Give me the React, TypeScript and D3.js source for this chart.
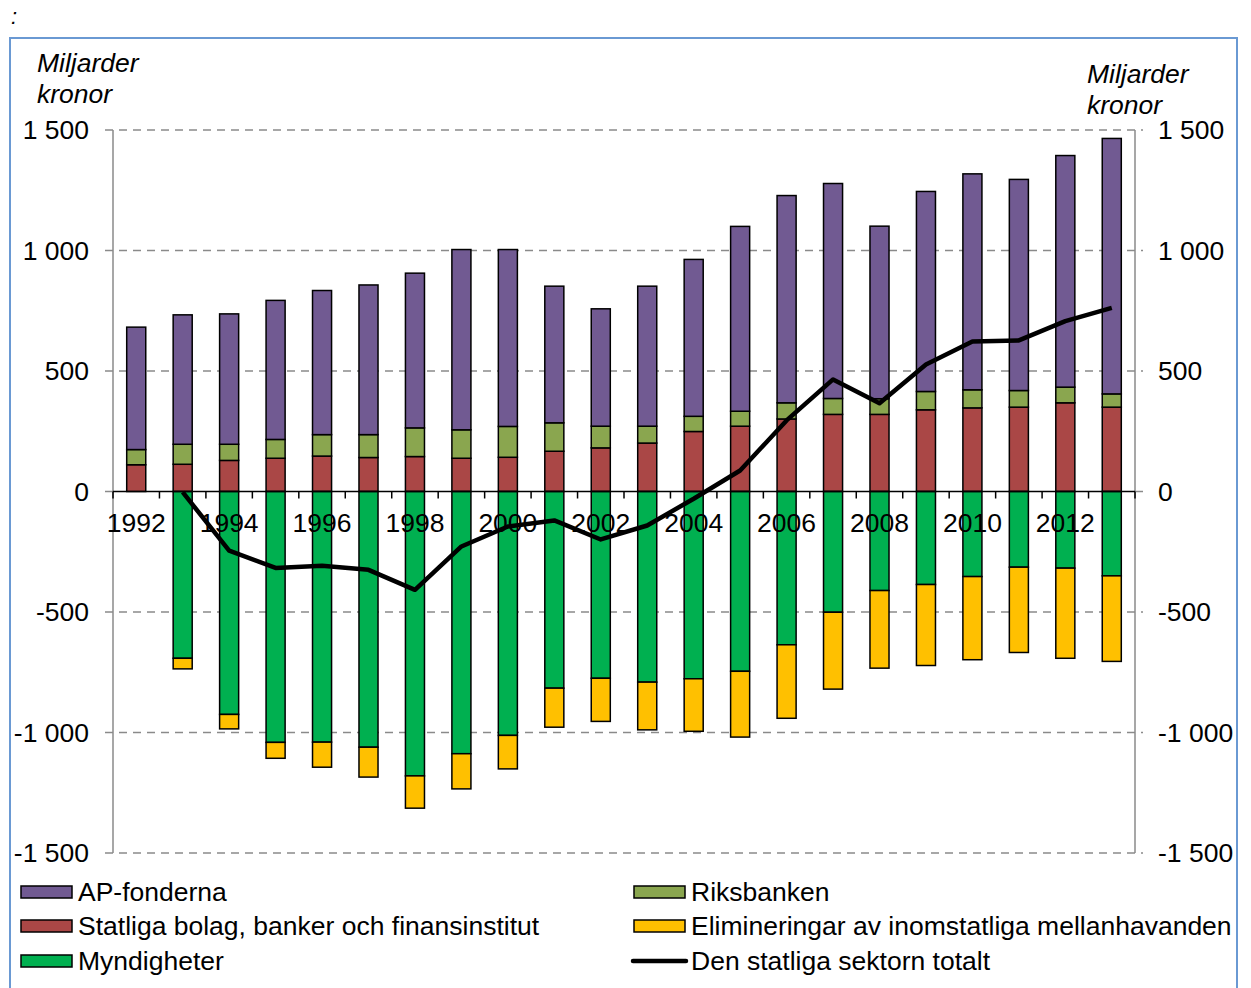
import React from "react";
import * as d3 from "d3";

const years = [1992,1993,1994,1995,1996,1997,1998,1999,2000,2001,2002,2003,2004,2005,2006,2007,2008,2009,2010,2011,2012,2013];
const statliga = [111,113,129,138,147,141,145,138,142,167,181,201,249,271,301,320,320,339,347,350,368,350];
const riksbanken = [63,83,67,78,89,95,119,118,128,118,90,70,63,62,67,66,65,76,75,69,65,55];
const apFonderna = [508,537,541,577,598,621,642,748,734,567,487,581,651,767,860,892,716,830,896,876,961,1060];
const myndigheter = [0,-692,-925,-1041,-1040,-1061,-1180,-1088,-1012,-816,-775,-791,-777,-746,-636,-501,-411,-386,-353,-314,-318,-350];
const elimineringar = [0,-44,-60,-66,-104,-124,-134,-146,-139,-162,-179,-198,-218,-273,-305,-319,-322,-336,-345,-354,-374,-355];
const totalt: (number | null)[] = [null,-3,-245,-317,-308,-325,-408,-228,-145,-120,-199,-141,-30,87,295,465,366,527,622,627,707,762];
const yTicks = [1500,1000,500,0,-500,-1000,-1500];

const C = {
  ap: "#715a92",
  stat: "#aa4746",
  riks: "#8aa64f",
  mynd: "#00b050",
  elim: "#ffc000",
};

const FONT = "Arial, 'Liberation Sans', sans-serif";
const FS = 26.5;

function fmt(v: number) {
  const s = Math.abs(v).toString();
  const withSpace = s.length > 3 ? s.slice(0, s.length - 3) + " " + s.slice(s.length - 3) : s;
  return (v < 0 ? "-" : "") + withSpace;
}

export default function App() {
  const W = 1251, H = 988;
  const left = 113, right = 1135, top = 130, bottom = 853;
  const y = d3.scaleLinear().domain([-1500, 1500]).range([bottom, top]);
  const p = 0.59;
  const x = d3.scaleBand<number>().domain(years).range([left, right]).paddingInner(p).paddingOuter(p / 2);
  const bw = x.bandwidth();
  const step = x.step();
  const cx = (yr: number) => (x(yr) as number) + bw / 2;

  const rows = years.map((yr, i) => {
    const s1 = statliga[i];
    const r1 = s1 + riksbanken[i];
    const a1 = r1 + apFonderna[i];
    const m1 = myndigheter[i];
    const e1 = m1 + elimineringar[i];
    return { yr, segs: [
      { a: 0, b: s1, c: C.stat },
      { a: s1, b: r1, c: C.riks },
      { a: r1, b: a1, c: C.ap },
      { a: 0, b: m1, c: C.mynd },
      { a: m1, b: e1, c: C.elim },
    ] };
  });

  const lineData = years.map((yr, i) => ({ yr, v: totalt[i] })).filter(d => d.v !== null) as { yr: number; v: number }[];
  const line = d3.line<{ yr: number; v: number }>().x(d => cx(d.yr)).y(d => y(d.v));

  const boundaries = d3.range(years.length + 1).map(i => left + i * step);

  const legendLeft = [
    { label: "AP-fonderna", c: C.ap },
    { label: "Statliga bolag, banker och finansinstitut", c: C.stat },
    { label: "Myndigheter", c: C.mynd },
  ];
  const legendRight = [
    { label: "Riksbanken", c: C.riks, line: false },
    { label: "Elimineringar av inomstatliga mellanhavanden", c: C.elim, line: false },
    { label: "Den statliga sektorn totalt", c: "#000", line: true },
  ];
  const legY = [892, 926, 961];

  return (
    <svg width={W} height={H} style={{ position: "absolute", left: 0, top: 0, background: "#fff" }} fontFamily={FONT}>
      <text x={11} y={24} fontSize={22} fontStyle="italic">:</text>
      <rect x={10} y={38} width={1227} height={1010} fill="none" stroke="#6a99d3" strokeWidth={2} />

      {yTicks.filter(t => t !== 0).map(t => (
        <line key={t} x1={left - 8} x2={right + 8} y1={y(t)} y2={y(t)} stroke="#8a8a8a" strokeWidth={1.5} strokeDasharray="8,6" />
      ))}
      <line x1={left} x2={left} y1={top} y2={bottom} stroke="#8a8a8a" strokeWidth={1.5} />
      <line x1={right} x2={right} y1={top} y2={bottom} stroke="#8a8a8a" strokeWidth={1.5} />
      <line x1={left - 8} x2={left} y1={y(0)} y2={y(0)} stroke="#8a8a8a" strokeWidth={1.5} />
      <line x1={right} x2={right + 8} y1={y(0)} y2={y(0)} stroke="#8a8a8a" strokeWidth={1.5} />

      {yTicks.map(t => (
        <g key={"l" + t}>
          <text x={89} y={y(t)} dy="0.35em" textAnchor="end" fontSize={FS}>{fmt(t)}</text>
          <text x={1158} y={y(t)} dy="0.35em" textAnchor="start" fontSize={FS}>{fmt(t)}</text>
        </g>
      ))}

      <text x={37} y={72} fontSize={FS} fontStyle="italic">Miljarder</text>
      <text x={37} y={103} fontSize={FS} fontStyle="italic">kronor</text>
      <text x={1087} y={83} fontSize={FS} fontStyle="italic">Miljarder</text>
      <text x={1087} y={114} fontSize={FS} fontStyle="italic">kronor</text>

      {rows.map(r => (
        <g key={r.yr}>
          {r.segs.filter(s => s.a !== s.b).map((s, j) => (
            <rect key={j} x={x(r.yr)} y={y(Math.max(s.a, s.b))} width={bw} height={Math.abs(y(s.a) - y(s.b))}
              fill={s.c} stroke="#000" strokeWidth={1.5} />
          ))}
        </g>
      ))}

      <line x1={left} x2={right} y1={y(0)} y2={y(0)} stroke="#000" strokeWidth={1.5} />
      {boundaries.map((b, i) => (
        <line key={i} x1={b} x2={b} y1={y(0)} y2={y(0) + 7} stroke="#000" strokeWidth={1.5} />
      ))}
      {years.filter(yr => yr % 2 === 0).map(yr => (
        <text key={yr} x={cx(yr)} y={532} textAnchor="middle" fontSize={FS}>{yr}</text>
      ))}

      <path d={line(lineData) || ""} fill="none" stroke="#000" strokeWidth={4.5} strokeLinejoin="round" />

      {legendLeft.map((l, i) => (
        <g key={l.label}>
          <rect x={21} y={legY[i] - 6} width={51} height={12} fill={l.c} stroke="#000" strokeWidth={1.5} />
          <text x={78} y={legY[i]} dy="0.35em" fontSize={FS}>{l.label}</text>
        </g>
      ))}
      {legendRight.map((l, i) => (
        <g key={l.label}>
          {l.line ? (
            <line x1={633} x2={686} y1={legY[i]} y2={legY[i]} stroke="#000" strokeWidth={4.5} strokeLinecap="round" />
          ) : (
            <rect x={634} y={legY[i] - 6} width={51} height={12} fill={l.c} stroke="#000" strokeWidth={1.5} />
          )}
          <text x={691} y={legY[i]} dy="0.35em" fontSize={FS}>{l.label}</text>
        </g>
      ))}
    </svg>
  );
}
